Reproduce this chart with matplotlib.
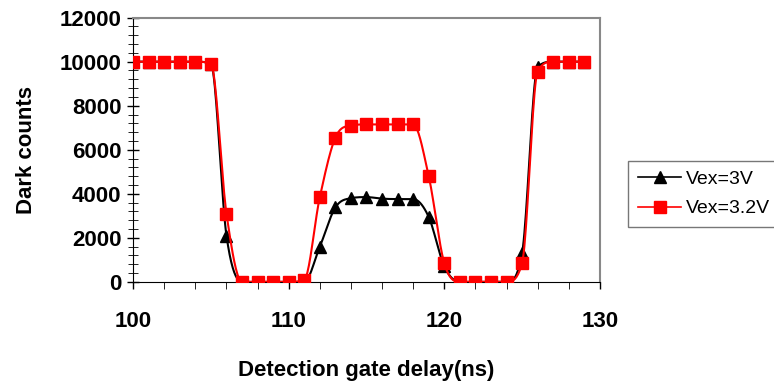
import numpy as np
import matplotlib
matplotlib.use('Agg')
import matplotlib.pyplot as plt
from matplotlib.lines import Line2D

# gate delay in ns
delay = list(range(100, 130))

# Vex = 3V (black triangles)
counts_3v = [10000, 10000, 10000, 10000, 10000, 9900, 2100, 0, 0, 0,
             0, 0, 1600, 3380, 3800, 3850, 3780, 3760, 3760, 2950,
             700, 0, 0, 0, 0, 1300, 9750, 10000, 10000, 10000]

# Vex = 3.2V (red squares)
counts_32v = [10000, 10000, 10000, 10000, 10000, 9900, 3100, 0, 0, 0,
              0, 100, 3850, 6550, 7100, 7150, 7150, 7150, 7150, 4800,
              850, 0, 0, 0, 0, 850, 9550, 10000, 10000, 10000]


# smoothed line through the points, tangents limited so it doesn't overshoot much
def smooth(xs, ys, n=20):
    xs = np.asarray(xs, float)
    ys = np.asarray(ys, float)
    d = np.diff(ys) / np.diff(xs)
    m = np.zeros_like(ys)
    m[1:-1] = (d[:-1] + d[1:]) / 2
    m[0], m[-1] = d[0], d[-1]
    for i in range(1, len(ys) - 1):
        if d[i - 1] * d[i] <= 0:
            m[i] = 0
        else:
            lim = 3 * min(abs(d[i - 1]), abs(d[i]))
            m[i] = np.sign(m[i]) * min(abs(m[i]), lim)
    out_x, out_y = [], []
    t = np.linspace(0, 1, n, endpoint=False)
    for i in range(len(xs) - 1):
        h = xs[i + 1] - xs[i]
        h00 = 2 * t**3 - 3 * t**2 + 1
        h10 = t**3 - 2 * t**2 + t
        h01 = -2 * t**3 + 3 * t**2
        h11 = t**3 - t**2
        out_x.extend(xs[i] + t * h)
        out_y.extend(h00 * ys[i] + h10 * h * m[i] + h01 * ys[i + 1] + h11 * h * m[i + 1])
    out_x.append(xs[-1])
    out_y.append(ys[-1])
    return out_x, out_y


plt.rcParams['font.family'] = ['Liberation Sans', 'DejaVu Sans']

fig = plt.figure(figsize=(7.74, 3.83), dpi=100)
ax = fig.add_axes([0.172, 0.264, 0.603, 0.690])

sx, sy = smooth(delay, counts_3v)
ax.plot(sx, sy, color='black', lw=1.5, zorder=2)
ax.plot(delay, counts_3v, ls='none', marker='^', ms=8, color='black', zorder=3)

sx, sy = smooth(delay, counts_32v)
ax.plot(sx, sy, color='red', lw=1.5, zorder=4)
ax.plot(delay, counts_32v, ls='none', marker='s', ms=8.5, color='red', zorder=5)

ax.set_xlim(100, 130)
ax.set_ylim(0, 12000)
ax.set_xticks([100, 110, 120, 130])
ax.set_xticks(np.arange(100, 131, 2), minor=True)
ax.set_yticks(np.arange(0, 12001, 2000))
ax.set_yticks(np.arange(0, 12001, 400), minor=True)
ax.tick_params(axis='both', which='major', labelsize=16, length=5, width=1, direction='out')
ax.tick_params(axis='y', which='both', direction='inout')
ax.tick_params(axis='y', which='major', length=9, pad=4)
ax.tick_params(axis='y', which='minor', length=7)
ax.tick_params(axis='x', which='minor', length=5, direction='out')
for lab in ax.get_xticklabels() + ax.get_yticklabels():
    lab.set_fontweight('bold')
ax.tick_params(axis='x', which='major', pad=16)

ax.spines['top'].set_color('#888888')
ax.spines['right'].set_color('#888888')
ax.spines['top'].set_linewidth(1.5)
ax.spines['right'].set_linewidth(1.5)

ax.set_xlabel('Detection gate delay(ns)', fontsize=16, fontweight='bold', labelpad=20)
ax.set_ylabel('Dark counts', fontsize=16, fontweight='bold', labelpad=16)

handles = [
    Line2D([], [], color='black', lw=1.2, marker='^', ms=8.5, label='Vex=3V'),
    Line2D([], [], color='red', lw=1.2, marker='s', ms=8.5, label='Vex=3.2V'),
]
leg = fig.legend(handles=handles, loc='upper left', bbox_to_anchor=(0.812, 0.580),
                 fontsize=14, frameon=True, fancybox=False, handlelength=2.2,
                 borderpad=0.5, labelspacing=0.6, handletextpad=0.25,
                 borderaxespad=0)
leg.get_frame().set_edgecolor('#555555')
leg.get_frame().set_linewidth(1.0)

fig.savefig('out.png', dpi=100)
